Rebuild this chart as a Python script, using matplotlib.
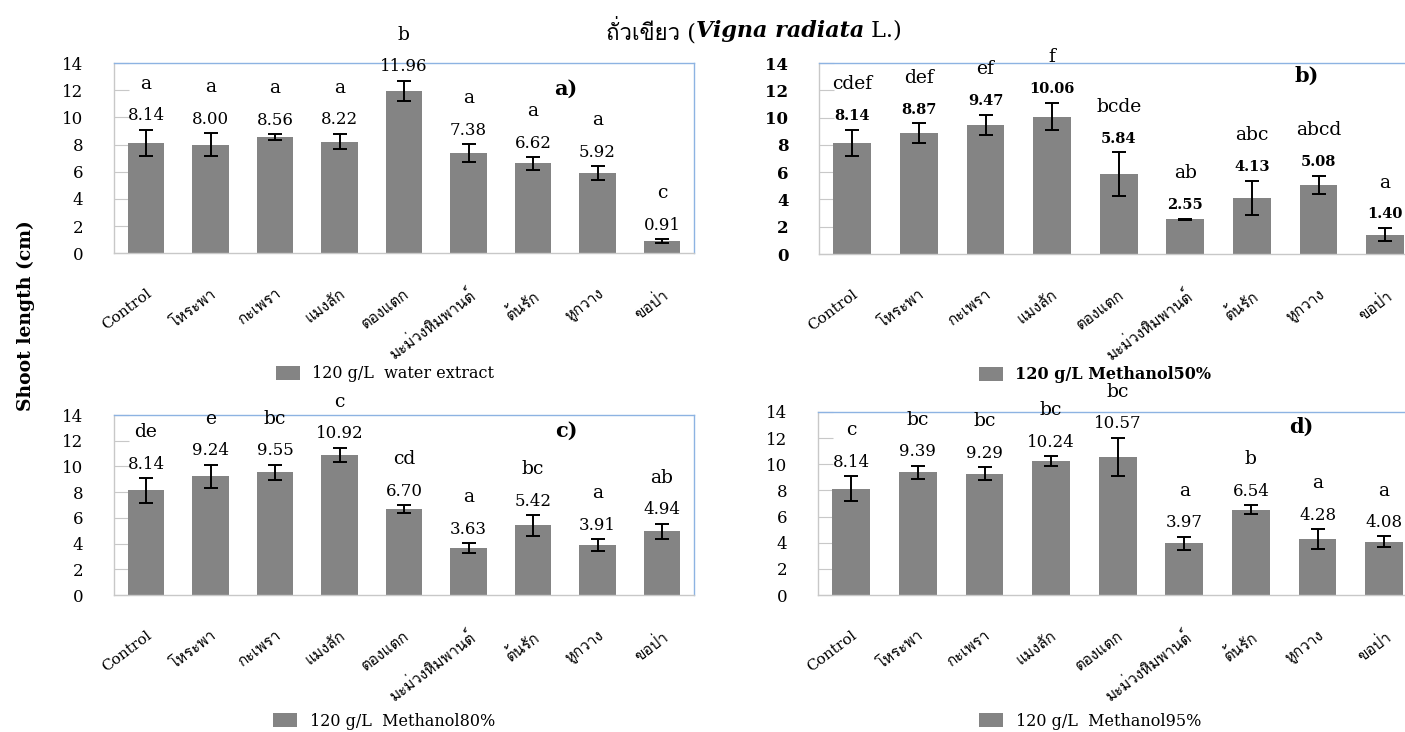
import matplotlib
matplotlib.use("Agg")
import matplotlib.pyplot as plt
from matplotlib import font_manager
from matplotlib.ft2font import FT2Font
from matplotlib.patches import Patch

# ---- data -------------------------------------------------------------
categories = ["Control", "โหระพา", "กะเพรา", "แมงลัก", "ตองแตก",
              "มะม่วงหิมพานต์", "ต้นรัก", "หูกวาง", "ขอป่า"]

water_mean = [8.14, 8.00, 8.56, 8.22, 11.96, 7.38, 6.62, 5.92, 0.91]
water_se = [0.95, 0.85, 0.22, 0.57, 0.74, 0.64, 0.47, 0.50, 0.12]
water_letters = ["a", "a", "a", "a", "b", "a", "a", "a", "c"]

meoh50_mean = [8.14, 8.87, 9.47, 10.06, 5.84, 2.55, 4.13, 5.08, 1.40]
meoh50_se = [0.95, 0.70, 0.74, 1.00, 1.60, 0.05, 1.25, 0.67, 0.48]
meoh50_letters = ["cdef", "def", "ef", "f", "bcde", "ab", "abc", "abcd", "a"]

meoh80_mean = [8.14, 9.24, 9.55, 10.92, 6.70, 3.63, 5.42, 3.91, 4.94]
meoh80_se = [0.95, 0.90, 0.60, 0.55, 0.30, 0.40, 0.80, 0.45, 0.60]
meoh80_letters = ["de", "e", "bc", "c", "cd", "a", "bc", "a", "ab"]

meoh95_mean = [8.14, 9.39, 9.29, 10.24, 10.57, 3.97, 6.54, 4.28, 4.08]
meoh95_se = [0.95, 0.50, 0.50, 0.38, 1.45, 0.50, 0.35, 0.75, 0.40]
meoh95_letters = ["c", "bc", "bc", "bc", "bc", "a", "b", "a", "a"]

series_names = ["120 g/L  water extract", "120 g/L Methanol50%",
                "120 g/L  Methanol80%", "120 g/L  Methanol95%"]
panel_tags = ["a)", "b)", "c)", "d)"]
y_ticks = [0, 2, 4, 6, 8, 10, 12, 14]


# ---- fonts ------------------------------------------------------------
def find_thai_family():
    for entry in font_manager.fontManager.ttflist:
        try:
            if 0x0E01 in FT2Font(entry.fname).get_charmap():
                return entry.name
        except Exception:
            continue
    return None


thai = find_thai_family()
FAM = ["DejaVu Serif"] + ([thai] if thai else []) + ["DejaVu Sans"]
plt.rcParams["font.family"] = FAM

BAR = "#848484"
GRID_GREY = "#c8c8c8"
FRAME_BLUE = "#8db3e2"

W, H = 1405, 732
fig = plt.figure(figsize=(W / 100, H / 100), dpi=100)


def px_axes(left, top, right, bottom):
    return fig.add_axes([left / W, 1 - bottom / H, (right - left) / W, (bottom - top) / H])


panels = [
    dict(box=(113.75, 63, 694.25, 253.3), mean=water_mean, se=water_se,
         letters=water_letters, bold=False, tag_xy=(0.779, 0.864),
         legend_xy=(385, 374)),
    dict(box=(819, 63, 1418.4, 254), mean=meoh50_mean, se=meoh50_se,
         letters=meoh50_letters, bold=True, tag_xy=(0.814, 0.932),
         legend_xy=(1095, 375)),
    dict(box=(113.75, 415, 694.25, 595), mean=meoh80_mean, se=meoh80_se,
         letters=meoh80_letters, bold=False, tag_xy=(0.779, 0.914),
         legend_xy=(384, 721)),
    dict(box=(818, 412, 1417.4, 595), mean=meoh95_mean, se=meoh95_se,
         letters=meoh95_letters, bold=False, tag_xy=(0.807, 0.918),
         legend_xy=(1090, 721)),
]

x = list(range(len(categories)))
for p, name, tag in zip(panels, series_names, panel_tags):
    ax = px_axes(*p["box"])
    weight = "bold" if p["bold"] else "normal"
    ax.bar(x, p["mean"], width=0.57, color=BAR, zorder=2)
    ax.errorbar(x, p["mean"], yerr=p["se"], fmt="none", ecolor="black",
                elinewidth=1.4, capsize=5, capthick=1.4, zorder=3)
    ax.set_xlim(-0.5, len(categories) - 0.5)
    ax.set_ylim(0, 14)
    ax.set_yticks(y_ticks)
    ax.set_yticklabels([str(t) for t in y_ticks], fontsize=12, fontweight=weight)
    ax.tick_params(axis="y", direction="in", length=11, color=GRID_GREY, pad=22)
    ax.set_xticks(x)
    ax.set_xticklabels(categories, rotation=37, ha="right", va="top",
                       rotation_mode="anchor", fontsize=11)
    ax.tick_params(axis="x", length=0, pad=24)
    for side in ("left", "bottom"):
        ax.spines[side].set_color(GRID_GREY)
    for side in ("top", "right"):
        ax.spines[side].set_color(FRAME_BLUE)
    for sp in ax.spines.values():
        sp.set_linewidth(1.0)

    val_size = 10.5 if p["bold"] else 12
    for xi, m, s, lt in zip(x, p["mean"], p["se"], p["letters"]):
        top = m + s
        ax.annotate(f"{m:.2f}", (xi, top), xytext=(0, 10), textcoords="offset points",
                    ha="center", va="center", fontsize=val_size, fontweight=weight,
                    annotation_clip=False)
        ax.annotate(lt, (xi, top), xytext=(0, 33), textcoords="offset points",
                    ha="center", va="center", fontsize=13.5, annotation_clip=False)

    ax.text(*p["tag_xy"], tag, transform=ax.transAxes, ha="center", va="center",
            fontsize=15, fontweight="bold")

    lx, ly = p["legend_xy"]
    ax.legend(handles=[Patch(facecolor=BAR, edgecolor="none")], labels=[name],
              loc="center", bbox_to_anchor=(lx / W, 1 - ly / H),
              bbox_transform=fig.transFigure, frameon=False,
              handlelength=1.5, handleheight=1.05, handletextpad=0.8,
              prop=dict(family=FAM, size=11.5, weight=weight))

fig.text(26 / W, 1 - 316 / H, "Shoot length (cm)", rotation=90, ha="center",
         va="center", fontsize=13.5, fontweight="bold")

# title assembled from runs with different styles
runs = [("ถั่วเขียว (", dict(weight="normal", style="normal")),
        ("Vigna radiata", dict(weight="bold", style="italic")),
        (" L.)", dict(weight="normal", style="normal"))]
renderer = fig.canvas.get_renderer()
title_y = 1 - 31 / H
pieces = []
for s, kw in runs:
    t = fig.text(0, title_y, s, ha="left", va="center", fontsize=16,
                 fontweight=kw["weight"], fontstyle=kw["style"])
    pieces.append(t)
widths = [t.get_window_extent(renderer).width for t in pieces]
cursor = 754 - sum(widths) / 2
for t, w in zip(pieces, widths):
    t.set_x(cursor / W)
    cursor += w

fig.savefig("out.png", dpi=100)
